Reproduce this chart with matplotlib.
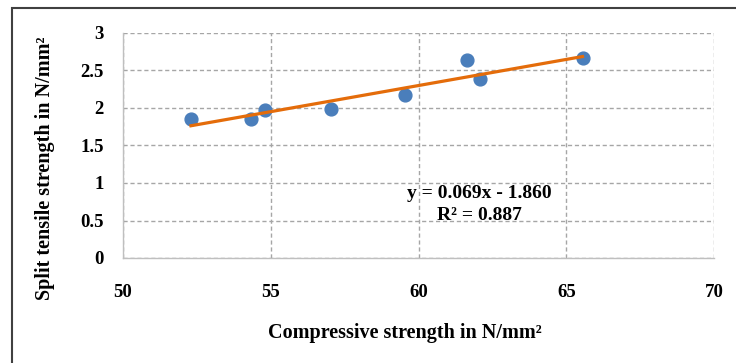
import matplotlib.pyplot as plt
import numpy as np
from matplotlib.patches import Rectangle

plt.rcParams['font.family'] = ['Liberation Serif', 'DejaVu Serif']

# data
comp = np.array([52.3, 54.32, 54.8, 57.05, 59.53, 61.65, 62.08, 65.55])
split = np.array([1.85, 1.85, 1.97, 1.98, 2.17, 2.64, 2.38, 2.67])
xticks = [50, 55, 60, 65, 70]
yticks = [0, 0.5, 1, 1.5, 2, 2.5, 3]
yticklabels = ['0', '0.5', '1', '1.5', '2', '2.5', '3']

fig = plt.figure(figsize=(7.36, 3.63), dpi=100)
ax = fig.add_axes([123/736, 1-258/363, (714-123)/736, (258-33)/363])

# border around the chart area
fig.patches.append(Rectangle((12/736, -0.1), 1.2, 1 - 8/363 + 0.1,
                             transform=fig.transFigure, fill=False,
                             edgecolor='#404040', linewidth=1.5))

ax.scatter(comp, split, s=85, color='#4a7ebb', zorder=3)

# linear trendline
k, b = np.polyfit(comp, split, 1)
xs = np.array([comp.min(), comp.max()])
ax.plot(xs, k*xs + b, color='#e46c0a', linewidth=2.3, zorder=4)

ax.text(62.05, 0.86, 'y = 0.069x - 1.860', ha='center', va='center',
        fontsize=14, fontweight='bold')
ax.text(62.05, 0.57, 'R² = 0.887', ha='center', va='center',
        fontsize=14, fontweight='bold')

ax.set_xlim(50, 70)
ax.set_ylim(0, 3)
ax.set_xticks(xticks)
ax.set_yticks(yticks)
ax.set_yticklabels(yticklabels)
ax.tick_params(axis='x', length=0, pad=19, labelsize=13.5)
ax.tick_params(axis='y', length=0, pad=14, labelsize=13.5)
for lbl in ax.get_xticklabels() + ax.get_yticklabels():
    lbl.set_fontweight('bold')

ax.grid(True, color='#a6a6a6', linestyle='--', linewidth=1, dashes=(3, 2))
ax.set_axisbelow(True)
for s in ['top', 'right']:
    ax.spines[s].set_visible(False)
for s in ['left', 'bottom']:
    ax.spines[s].set_color('#bfbfbf')
    ax.spines[s].set_linewidth(1)

fig.text(405/736, 1-333/363, 'Compressive strength in N/mm²', ha='center',
         va='center', fontsize=14.5, fontweight='bold')
fig.text(45/736, 1-168/363, 'Split tensile strength in N/mm²', ha='center',
         va='center', rotation=90, fontsize=14.5, fontweight='bold')

fig.savefig('out.png', dpi=100)
